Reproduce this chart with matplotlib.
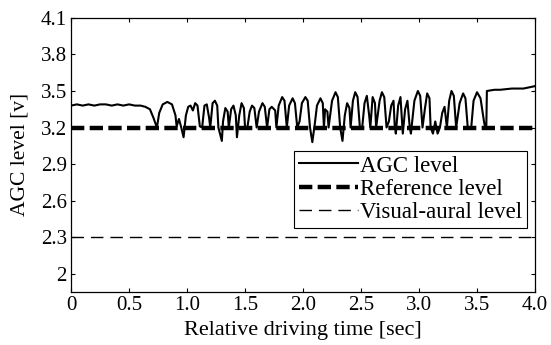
import matplotlib
matplotlib.use("Agg")
import matplotlib.pyplot as plt

OUTPUT_FILE = "out.png"

# AGC level trace (time in sec, level in V)
agc_time = [
    0.00, 0.05, 0.10, 0.15, 0.20, 0.25, 0.30, 0.35, 0.40, 0.45, 0.50, 0.55, 0.60,
    0.64, 0.68, 0.71, 0.74, 0.76, 0.79, 0.83, 0.87, 0.90, 0.91, 0.93, 0.95, 0.97,
    0.99, 1.01, 1.03, 1.05, 1.07, 1.09, 1.11, 1.13, 1.15, 1.17, 1.19, 1.20, 1.22,
    1.24, 1.26, 1.27, 1.30, 1.31, 1.33, 1.35, 1.36, 1.38, 1.40, 1.42, 1.43, 1.45,
    1.47, 1.49, 1.50, 1.52, 1.54, 1.56, 1.58, 1.60, 1.62, 1.65, 1.67, 1.69, 1.71,
    1.73, 1.76, 1.77, 1.79, 1.82, 1.84, 1.86, 1.88, 1.91, 1.93, 1.95, 1.97, 1.99,
    2.02, 2.04, 2.06, 2.08, 2.10, 2.12, 2.15, 2.17, 2.18, 2.19, 2.21, 2.22, 2.25,
    2.28, 2.30, 2.32, 2.34, 2.36, 2.38, 2.40, 2.41, 2.43, 2.45, 2.47, 2.49, 2.51,
    2.53, 2.55, 2.57, 2.58, 2.60, 2.62, 2.63, 2.66, 2.68, 2.70, 2.72, 2.74, 2.76,
    2.78, 2.79, 2.80, 2.82, 2.84, 2.85, 2.86, 2.88, 2.90, 2.92, 2.93, 2.96, 2.99,
    3.01, 3.03, 3.05, 3.07, 3.09, 3.10, 3.12, 3.14, 3.16, 3.18, 3.20, 3.22, 3.24,
    3.26, 3.28, 3.30, 3.32, 3.35, 3.38, 3.40, 3.42, 3.45, 3.47, 3.50, 3.53, 3.56,
    3.57, 3.58, 3.585, 3.65, 3.70, 3.80, 3.90, 4.00,
]
agc_level = [
    3.38, 3.39, 3.38, 3.39, 3.38, 3.39, 3.39, 3.38, 3.39, 3.38, 3.39, 3.38, 3.38,
    3.37, 3.35, 3.28, 3.20, 3.32, 3.39, 3.41, 3.39, 3.30, 3.21, 3.27, 3.20, 3.12,
    3.30, 3.37, 3.38, 3.34, 3.40, 3.38, 3.21, 3.20, 3.38, 3.39, 3.28, 3.20, 3.40,
    3.42, 3.38, 3.20, 3.09, 3.25, 3.36, 3.33, 3.20, 3.35, 3.38, 3.30, 3.12, 3.30,
    3.40, 3.36, 3.20, 3.20, 3.33, 3.38, 3.36, 3.20, 3.33, 3.40, 3.37, 3.20, 3.35,
    3.37, 3.34, 3.20, 3.38, 3.45, 3.42, 3.20, 3.38, 3.44, 3.40, 3.20, 3.25, 3.40,
    3.45, 3.42, 3.20, 3.08, 3.22, 3.38, 3.44, 3.40, 3.20, 3.35, 3.33, 3.20, 3.42,
    3.49, 3.45, 3.20, 3.09, 3.30, 3.40, 3.36, 3.20, 3.42, 3.49, 3.45, 3.20, 3.20,
    3.40, 3.46, 3.30, 3.20, 3.45, 3.40, 3.20, 3.42, 3.49, 3.45, 3.20, 3.25, 3.38,
    3.42, 3.22, 3.15, 3.38, 3.45, 3.30, 3.15, 3.35, 3.42, 3.20, 3.15, 3.42, 3.50,
    3.46, 3.20, 3.35, 3.48, 3.44, 3.20, 3.15, 3.25, 3.15, 3.20, 3.32, 3.37, 3.20,
    3.42, 3.50, 3.46, 3.20, 3.40, 3.48, 3.44, 3.20, 3.20, 3.42, 3.49, 3.44, 3.25,
    3.20, 3.20, 3.50, 3.51, 3.51, 3.52, 3.52, 3.54,
]

reference_level = 3.2
visual_aural_level = 2.3

x_ticks = [0, 0.5, 1.0, 1.5, 2.0, 2.5, 3.0, 3.5, 4.0]
x_tick_labels = ["0", "0.5", "1.0", "1.5", "2.0", "2.5", "3.0", "3.5", "4.0"]
y_ticks = [2.0, 2.3, 2.6, 2.9, 3.2, 3.5, 3.8, 4.1]
y_tick_labels = ["2", "2.3", "2.6", "2.9", "3.2", "3.5", "3.8", "4.1"]


def make_plot():
    plt.rcParams['font.family'] = ['Liberation Serif', 'DejaVu Serif']
    plt.rcParams['font.size'] = 15

    fig = plt.figure(figsize=(5.51, 3.45), dpi=100)
    ax = fig.add_axes([0.129, 0.154, 0.842, 0.794])

    ax.plot(agc_time, agc_level, color='black', linewidth=1.5, label='AGC level')
    ax.axhline(reference_level, color='black', linewidth=3.2,
               dashes=(3.0, 1.2), label='Reference level')
    ax.axhline(visual_aural_level, color='black', linewidth=1.0,
               dashes=(9, 5), label='Visual-aural level')

    ax.set_xlim(0, 4.0)
    ax.set_ylim(1.85, 4.1)
    ax.set_xticks(x_ticks)
    ax.set_xticklabels(x_tick_labels)
    ax.set_yticks(y_ticks)
    ax.set_yticklabels(y_tick_labels)
    ax.tick_params(direction='in', top=True, right=True, length=3, width=0.8,
                   pad=3, labelsize=15)
    for spine in ax.spines.values():
        spine.set_linewidth(0.9)

    ax.set_xlabel('Relative driving time [sec]', fontsize=16)
    ax.set_ylabel('AGC level [v]', fontsize=15.5)
    ax.xaxis.set_label_coords(0.5, -0.105)
    ax.yaxis.set_label_coords(-0.09, 0.5)

    leg = ax.legend(loc='lower right', bbox_to_anchor=(0.983, 0.234),
                    frameon=True, fancybox=False, framealpha=1,
                    edgecolor='black', handlelength=2.6, handletextpad=0.1,
                    borderpad=0.2, labelspacing=0.1, borderaxespad=0,
                    fontsize=16.5)
    leg.get_frame().set_linewidth(0.8)

    plt.savefig(OUTPUT_FILE, dpi=100)
    plt.close()


if __name__ == "__main__":
    make_plot()
